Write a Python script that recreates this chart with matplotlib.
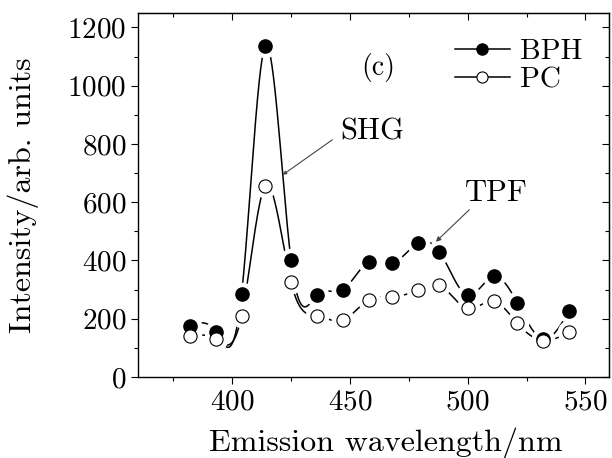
import numpy as np
import matplotlib
matplotlib.use("Agg")
import matplotlib.pyplot as plt
from matplotlib.ticker import MultipleLocator

plt.rcParams["font.family"] = "cmr10"
plt.rcParams["axes.formatter.use_mathtext"] = True
plt.rcParams["mathtext.fontset"] = "cm"

wavelength = [382, 393, 404, 414, 425, 436, 447, 458, 468, 479, 488, 500, 511, 521, 532, 543]
bph = [175, 155, 285, 1135, 400, 280, 300, 395, 390, 460, 430, 280, 345, 255, 130, 225]
pc = [140, 130, 210, 655, 325, 210, 195, 265, 275, 300, 315, 235, 260, 185, 125, 155]


def natural_spline(x, y, n=600):
    # natural cubic spline through the points, numpy only
    x = np.asarray(x, float)
    y = np.asarray(y, float)
    k = len(x)
    h = np.diff(x)
    A = np.zeros((k, k))
    b = np.zeros(k)
    A[0, 0] = A[-1, -1] = 1.0
    for i in range(1, k - 1):
        A[i, i - 1] = h[i - 1]
        A[i, i] = 2 * (h[i - 1] + h[i])
        A[i, i + 1] = h[i]
        b[i] = 3 * ((y[i + 1] - y[i]) / h[i] - (y[i] - y[i - 1]) / h[i - 1])
    c = np.linalg.solve(A, b)
    xs = np.linspace(x[0], x[-1], n)
    idx = np.clip(np.searchsorted(x, xs) - 1, 0, k - 2)
    dx = xs - x[idx]
    bb = (y[idx + 1] - y[idx]) / h[idx] - h[idx] * (2 * c[idx] + c[idx + 1]) / 3
    d = (c[idx + 1] - c[idx]) / (3 * h[idx])
    ys = y[idx] + bb * dx + c[idx] * dx ** 2 + d * dx ** 3
    return xs, ys


fig = plt.figure(figsize=(6.12, 4.58), dpi=100)
ax = fig.add_axes([0.2255, 0.177, 0.7695, 0.795])

fs = 21
lfs = 23
for series in (bph, pc):
    xs, ys = natural_spline(wavelength, series)
    ax.plot(xs, ys, color="black", lw=1.1, zorder=2)
for series in (bph, pc):
    ax.plot(wavelength, series, ls="none", marker="o", ms=16, mfc="white",
            mec="white", zorder=3)
ax.plot(wavelength, bph, ls="none", marker="o", ms=9.5, mfc="black",
        mec="black", zorder=4)
ax.plot(wavelength, pc, ls="none", marker="o", ms=9.5, mfc="white",
        mec="black", mew=0.8, zorder=4)

h1, = ax.plot([], [], color="black", lw=1.1, marker="o", ms=8, mfc="black", mec="black")
h2, = ax.plot([], [], color="black", lw=1.1, marker="o", ms=8, mfc="white", mec="black", mew=0.8)
ax.legend([h1, h2], ["BPH", "PC"], loc="upper right", frameon=False, fontsize=fs,
          handlelength=1.9, handletextpad=0.35, labelspacing=0.05,
          bbox_to_anchor=(1.0, 1.0))

ax.text(462, 1062, "(c)", fontsize=fs - 1, ha="center", va="center")
ax.text(459.5, 840, "SHG", fontsize=lfs - 1, ha="center", va="center")
ax.annotate("", xy=(421.5, 694), xytext=(442.5, 814),
            arrowprops=dict(arrowstyle="-|>", color="#444444", lw=0.8,
                            mutation_scale=5, shrinkA=0, shrinkB=0))
ax.text(512, 632, "TPF", fontsize=lfs - 1, ha="center", va="center")
ax.annotate("", xy=(486.5, 464), xytext=(500.7, 574),
            arrowprops=dict(arrowstyle="-|>", color="#444444", lw=0.8,
                            mutation_scale=7, shrinkA=0, shrinkB=0))

ax.set_xlim(360, 560)
ax.set_ylim(0, 1250)
ax.set_xticks([400, 450, 500, 550])
ax.set_yticks([0, 200, 400, 600, 800, 1000, 1200])
ax.xaxis.set_minor_locator(MultipleLocator(25))
ax.yaxis.set_minor_locator(MultipleLocator(100))
ax.tick_params(which="both", direction="out", labelsize=fs, width=0.8)
ax.tick_params(which="major", length=5)
ax.tick_params(which="minor", length=3)

top = ax.secondary_xaxis("top")
top.set_xticks([400, 450, 500, 550])
top.xaxis.set_minor_locator(MultipleLocator(25))
top.tick_params(which="both", direction="in", labeltop=False, width=0.8)
top.tick_params(which="major", length=5)
top.tick_params(which="minor", length=3)
right = ax.secondary_yaxis("right")
right.set_yticks([0, 200, 400, 600, 800, 1000, 1200])
right.yaxis.set_minor_locator(MultipleLocator(100))
right.tick_params(which="both", direction="in", labelright=False, width=0.8)
right.tick_params(which="major", length=5)
right.tick_params(which="minor", length=3)

for s in ax.spines.values():
    s.set_linewidth(1.0)

ax.set_xlabel("Emission wavelength/nm", fontsize=lfs, labelpad=9)
ax.xaxis.label.set_x(0.527)
ax.set_ylabel("Intensity/arb. units", fontsize=lfs, labelpad=20)

fig.savefig("out.png", dpi=100)
